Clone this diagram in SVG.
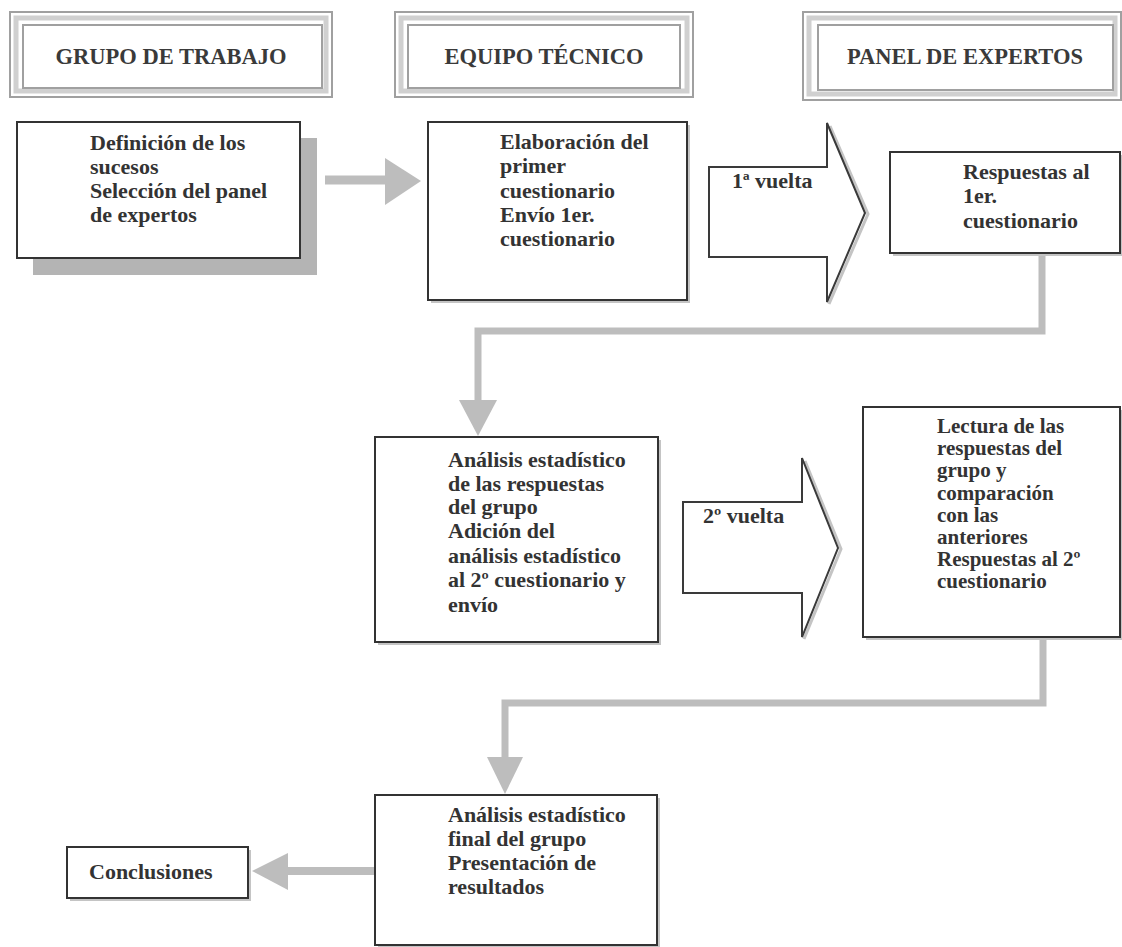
<svg xmlns="http://www.w3.org/2000/svg" width="1122" height="947" viewBox="0 0 1122 947">
<style>
.t{font-family:"Liberation Serif","Times New Roman",serif;font-weight:bold;font-size:22px;fill:#333}
.s{font-size:21px}
.h{font-family:"Liberation Serif","Times New Roman",serif;font-weight:bold;font-size:22.5px;fill:#3a3a3a;text-anchor:middle}
.box{fill:#fff;stroke:#333;stroke-width:2}
.sh{fill:#c4c4c4}
.big{fill:#b4b4b4}
.f1{fill:none;stroke:#a0a0a0;stroke-width:2}
.f2{fill:none;stroke:#d0d0d0;stroke-width:5}
.conn{fill:none;stroke:#bdbdbd;stroke-width:7}
.head{fill:#bdbdbd}
.blk{fill:#fff;stroke:#3a3a3a;stroke-width:2;stroke-linejoin:miter}
.bsh{fill:none;stroke:#c4c4c4;stroke-width:3}
</style>
<rect width="1122" height="947" fill="#fff"/>

<g id="hdr-grupo">
<rect class="f1" x="10" y="12" width="322" height="85"/>
<rect class="f2" x="16" y="18" width="310" height="73"/>
<rect class="f1" x="23" y="25" width="299" height="63"/>
<text class="h" x="171" y="64">GRUPO DE TRABAJO</text>
</g>
<g id="hdr-equipo">
<rect class="f1" x="395" y="12" width="298" height="85"/>
<rect class="f2" x="401" y="18" width="286" height="73"/>
<rect class="f1" x="408" y="25" width="272" height="63"/>
<text class="h" x="544" y="64">EQUIPO TÉCNICO</text>
</g>
<g id="hdr-panel">
<rect class="f1" x="803" y="12" width="318" height="88"/>
<rect class="f2" x="809" y="18" width="306" height="76"/>
<rect class="f1" x="818" y="25" width="295" height="65"/>
<text class="h" x="965" y="64">PANEL DE EXPERTOS</text>
</g>

<g id="connectors">
<line class="conn" x1="325" y1="180" x2="390" y2="180" style="stroke-width:9"/>
<polygon class="head" points="385,158 421,181 385,205"/>
<polyline class="conn" points="1042,253 1042,331 478,331 478,402"/>
<polygon class="head" points="459,400 497,400 478,436"/>
<polyline class="conn" points="1043,637 1043,703 505,703 505,759"/>
<polygon class="head" points="487,757 523,757 505,794"/>
<line class="conn" x1="374" y1="871" x2="284" y2="871" style="stroke-width:8"/>
<polygon class="head" points="288,853 288,890 252,871"/>
</g>

<g id="n-definicion">
<rect class="big" x="33" y="138" width="284" height="137"/>
<rect class="box" x="17" y="122" width="283" height="136"/>
<text class="t"><tspan x="90" y="150">Definición de los</tspan><tspan x="90" y="174">sucesos</tspan><tspan x="90" y="198">Selección del panel</tspan><tspan x="90" y="222">de expertos</tspan></text>
</g>

<g id="n-elaboracion">
<rect class="sh" x="431" y="125" width="259" height="178"/>
<rect class="box" x="428" y="122" width="259" height="178"/>
<text class="t"><tspan x="500" y="149">Elaboración del</tspan><tspan x="500" y="173">primer</tspan><tspan x="500" y="198">cuestionario</tspan><tspan x="500" y="222">Envío 1er.</tspan><tspan x="500" y="246">cuestionario</tspan></text>
</g>

<g id="n-vuelta1">
<polyline class="bsh" points="829,304 868,214 830,126"/>
<polygon class="blk" points="709,167 827,167 827,123 865,213 827,302 827,257 709,257"/>
<text class="t" x="732" y="188">1ª vuelta</text>
</g>

<g id="n-respuestas1">
<rect class="sh" x="893" y="155" width="229" height="101"/>
<rect class="box" x="890" y="152" width="230" height="101"/>
<text class="t"><tspan x="963" y="179">Respuestas al</tspan><tspan x="963" y="203">1er.</tspan><tspan x="963" y="228">cuestionario</tspan></text>
</g>

<g id="n-analisis">
<rect class="sh" x="378" y="440" width="283" height="205"/>
<rect class="box" x="375" y="437" width="283" height="205"/>
<text class="t"><tspan x="448" y="467">Análisis estadístico</tspan><tspan x="448" y="491">de las respuestas</tspan><tspan x="448" y="514">del grupo</tspan><tspan x="448" y="538">Adición del</tspan><tspan x="448" y="563">análisis estadístico</tspan><tspan x="448" y="587">al 2º cuestionario y</tspan><tspan x="448" y="612">envío</tspan></text>
</g>

<g id="n-vuelta2">
<polyline class="bsh" points="804,639 841,549 805,461"/>
<polygon class="blk" points="683,502 802,502 802,458 838,548 802,637 802,593 683,593"/>
<text class="t" x="703" y="523">2º vuelta</text>
</g>

<g id="n-lectura">
<rect class="sh" x="866" y="410" width="256" height="230"/>
<rect class="box" x="863" y="407" width="257" height="230"/>
<text class="t s"><tspan x="937" y="433">Lectura de las</tspan><tspan x="937" y="455">respuestas del</tspan><tspan x="937" y="477">grupo y</tspan><tspan x="937" y="500">comparación</tspan><tspan x="937" y="522">con las</tspan><tspan x="937" y="544">anteriores</tspan><tspan x="937" y="566">Respuestas al 2º</tspan><tspan x="937" y="588">cuestionario</tspan></text>
</g>

<g id="n-final">
<rect class="sh" x="378" y="798" width="282" height="150"/>
<rect class="box" x="375" y="795" width="282" height="150"/>
<text class="t"><tspan x="448" y="822">Análisis estadístico</tspan><tspan x="448" y="846">final del grupo</tspan><tspan x="448" y="870">Presentación de</tspan><tspan x="448" y="894">resultados</tspan></text>
</g>

<g id="n-conclusiones">
<rect class="sh" x="70" y="850" width="181" height="51"/>
<rect class="box" x="67" y="847" width="181" height="51"/>
<text class="t" x="89" y="879">Conclusiones</text>
</g>
</svg>
